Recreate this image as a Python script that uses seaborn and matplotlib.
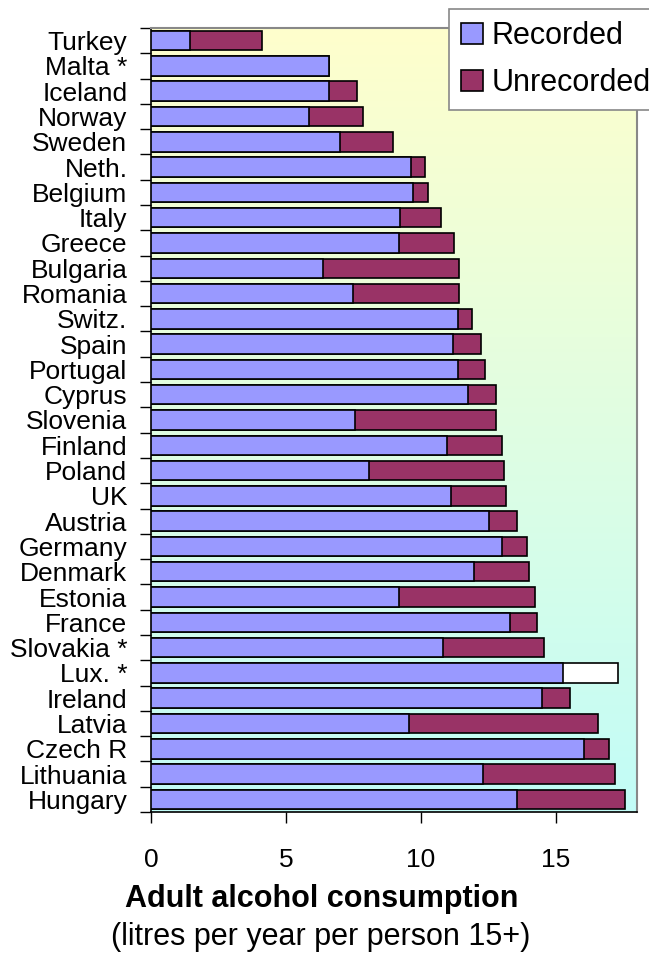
import numpy as np
import pandas as pd
import matplotlib
matplotlib.use("Agg")
import matplotlib.pyplot as plt
from matplotlib.patches import Patch
import seaborn as sns

countries = ["Turkey", "Malta *", "Iceland", "Norway", "Sweden", "Neth.", "Belgium",
             "Italy", "Greece", "Bulgaria", "Romania", "Switz.", "Spain", "Portugal",
             "Cyprus", "Slovenia", "Finland", "Poland", "UK", "Austria", "Germany",
             "Denmark", "Estonia", "France", "Slovakia *", "Lux. *", "Ireland",
             "Latvia", "Czech R", "Lithuania", "Hungary"]
recorded = [1.46, 6.61, 6.61, 5.84, 7.00, 9.64, 9.72,
            9.24, 9.18, 6.37, 7.47, 11.36, 11.18, 11.36,
            11.73, 7.55, 10.95, 8.07, 11.12, 12.53, 12.99,
            11.96, 9.18, 13.30, 10.81, 15.25, 14.47,
            9.56, 16.03, 12.28, 13.55]
unrecorded = [2.64, 0.0, 1.02, 2.03, 1.95, 0.49, 0.53,
              1.49, 2.03, 5.05, 3.95, 0.53, 1.03, 1.02,
              1.03, 5.21, 2.06, 5.01, 2.04, 1.02, 0.92,
              2.05, 5.06, 1.01, 3.73, 2.03, 1.03,
              7.01, 0.94, 4.92, 4.02]
# unrecorded part shown blank (estimate only)
unrecorded_estimated = ["Lux. *"]
x_ticks = [0, 5, 10, 15]

df = pd.DataFrame({"country": countries, "recorded": recorded, "unrecorded": unrecorded})
df["total"] = df["recorded"] + df["unrecorded"]

REC_COLOR = "#9999ff"
UNREC_COLOR = "#993366"

sns.set_theme(style="white")
plt.rcParams["font.family"] = ["Liberation Sans", "DejaVu Sans"]
plt.rcParams["text.color"] = "black"
plt.rcParams["xtick.color"] = "black"
plt.rcParams["ytick.color"] = "black"
plt.rcParams["axes.labelcolor"] = "black"

W, H = 649, 956
fig = plt.figure(figsize=(W / 100, H / 100), dpi=100)
ax = fig.add_axes([151 / W, (H - 812) / H, 486 / W, 784 / H])

# background gradient, yellow at top to cyan at bottom
top = np.array([1.0, 1.0, 0.80])
bot = np.array([0.76, 0.99, 0.97])
t = np.linspace(0, 1, 256)[:, None]
grad = (top * (1 - t) + bot * t)[:, None, :]
ax.imshow(grad, extent=[0, 1, 0, 1], transform=ax.transAxes, aspect="auto", zorder=0)

unrec_colors = ["white" if c in unrecorded_estimated else UNREC_COLOR for c in countries]
sns.barplot(data=df, x="total", y="country", hue="country", palette=unrec_colors,
            legend=False, orient="h", width=0.77, edgecolor="black", linewidth=1.2,
            saturation=1, ax=ax, zorder=2)
sns.barplot(data=df, x="recorded", y="country", color=REC_COLOR, orient="h", width=0.77,
            edgecolor="black", linewidth=1.2, saturation=1, ax=ax, zorder=3)

ax.set_xlim(0, 18)
ax.set_ylim(len(countries) - 0.5, -0.5)
ax.set_xlabel("")
ax.set_ylabel("")
ax.set_xticks(x_ticks)
ax.set_xticklabels([str(v) for v in x_ticks], fontsize=19)
ax.tick_params(axis="x", length=8, width=1, color="black", pad=18, bottom=True)
ax.set_yticks(range(len(countries)))
ax.set_yticklabels(countries, fontsize=19)
ax.tick_params(axis="y", which="major", length=0, pad=17)
ax.set_yticks(np.arange(-0.5, len(countries), 1.0), minor=True)
ax.tick_params(axis="y", which="minor", length=8, width=1, color="black", left=True)

for s in ["left", "bottom"]:
    ax.spines[s].set_color("black")
    ax.spines[s].set_linewidth(1.2)
for s in ["top", "right"]:
    ax.spines[s].set_color("#888888")
    ax.spines[s].set_linewidth(1.5)

handles = [Patch(facecolor=REC_COLOR, edgecolor="black", linewidth=1.2, label="Recorded"),
           Patch(facecolor=UNREC_COLOR, edgecolor="black", linewidth=1.2, label="Unrecorded")]
leg = fig.legend(handles=handles, loc="upper left", bbox_to_anchor=(449 / W, 1 - 9 / H),
                 fontsize=22, frameon=True, fancybox=False, framealpha=1,
                 edgecolor="#888888", handlelength=0.7, handleheight=0.7,
                 handletextpad=0.3, labelspacing=0.55, borderpad=0.4, borderaxespad=0)
leg.get_frame().set_linewidth(1.2)

fig.text(0.496, 1 - 907 / H, "Adult alcohol consumption", ha="center", va="baseline",
         fontsize=22, fontweight="bold")
fig.text(0.494, 1 - 945 / H, "(litres per year per person 15+)", ha="center",
         va="baseline", fontsize=22)

fig.savefig("out.png", dpi=100, facecolor="white")
